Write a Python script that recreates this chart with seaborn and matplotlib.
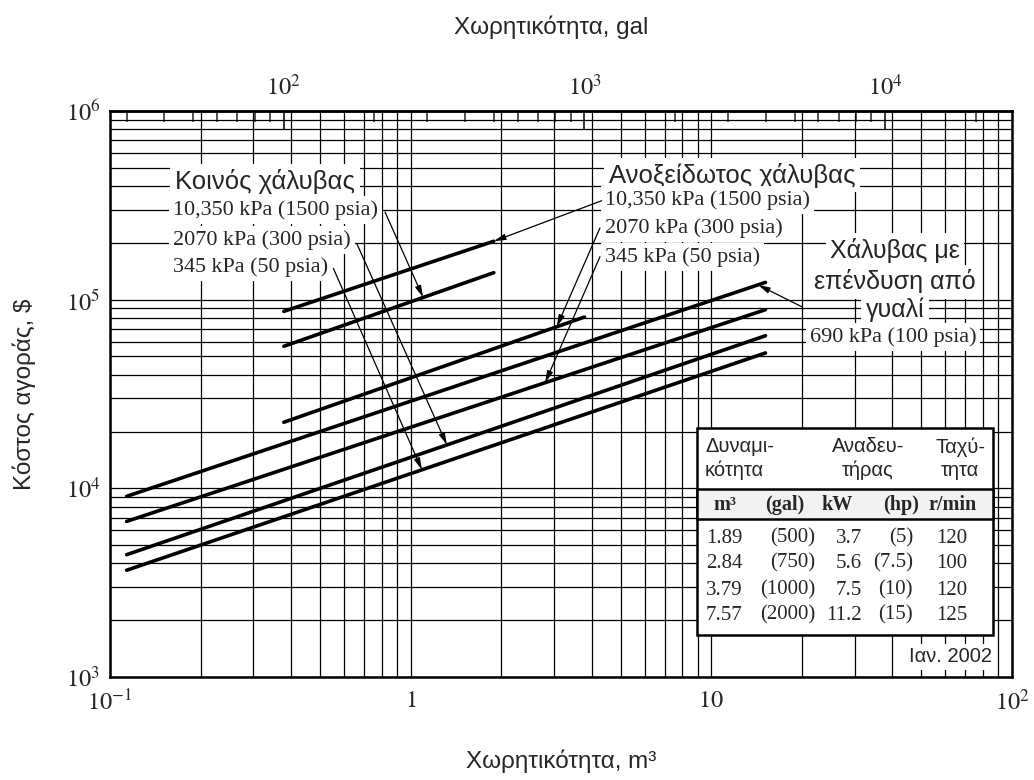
import numpy as np
import pandas as pd
import matplotlib
matplotlib.use("Agg")
import matplotlib.pyplot as plt
import seaborn as sns
from matplotlib.ticker import LogLocator, NullFormatter
from matplotlib.patches import Rectangle

# ---------------- data ----------------
series = ["Ανοξείδωτος 10,350 kPa", "Κοινός 10,350 kPa", "Ανοξείδωτος 2070 kPa",
          "Γυαλί 690 kPa", "Ανοξείδωτος 345 kPa", "Κοινός 2070 kPa", "Κοινός 345 kPa"]
cap_start_m3 = [0.3785, 0.3785, 0.3785, 0.1136, 0.1136, 0.1136, 0.1136]
cap_end_m3 = [1.89, 1.89, 3.785, 15.14, 15.14, 15.14, 15.14]
cost_start = [86700, 56600, 22400, 9070, 6680, 4450, 3680]
cost_end = [204000, 139000, 80900, 123500, 88500, 64400, 52200]
arrow_tip_m3 = [1.89, 1.10, 3.06, 14.3, 2.80, 1.32, 1.09]

x_ticks = [0.1, 1, 10, 100]
x_ticklabels = [r"$10^{-1}$", r"$1$", r"$10$", r"$10^{2}$"]
y_ticks = [1e3, 1e4, 1e5, 1e6]
y_ticklabels = [r"$10^{3}$", r"$10^{4}$", r"$10^{5}$", r"$10^{6}$"]
gal_ticks = [100, 1000, 10000]
gal_ticklabels = [r"$10^{2}$", r"$10^{3}$", r"$10^{4}$"]
GAL_PER_M3 = 264.172

tbl_m3 = ["1.89", "2.84", "3.79", "7.57"]
tbl_gal = ["(500)", "(750)", "(1000)", "(2000)"]
tbl_kw = ["3.7", "5.6", "7.5", "11.2"]
tbl_hp = ["(5)", "(7.5)", "(10)", "(15)"]
tbl_rpm = ["120", "100", "120", "125"]

# ---------------- style ----------------
sns.set_style("white")
plt.rcParams["font.family"] = ["Liberation Sans", "DejaVu Sans"]
plt.rcParams["mathtext.fontset"] = "stix"

SANS = ["Liberation Sans", "DejaVu Sans"]
SERIF = ["Liberation Serif", "DejaVu Serif"]

fig = plt.figure(figsize=(10.34, 7.8), dpi=100)
ax = fig.add_axes([0.10638, 0.13205, 0.87234, 0.72564])

rows = []
for name, xs, xe, ys, ye in zip(series, cap_start_m3, cap_end_m3, cost_start, cost_end):
    rows.append({"series": name, "capacity_m3": xs, "cost_usd": ys})
    rows.append({"series": name, "capacity_m3": xe, "cost_usd": ye})
df = pd.DataFrame(rows)

sns.lineplot(data=df, x="capacity_m3", y="cost_usd", units="series", estimator=None,
             sort=False, color="black", lw=2.6, ax=ax, zorder=5)

ax.set_xscale("log")
ax.set_yscale("log")
ax.set_xlim(0.1, 100)
ax.set_ylim(1e3, 1e6)
ax.set_xticks(x_ticks, x_ticklabels)
ax.set_yticks(y_ticks, y_ticklabels)
ax.xaxis.set_minor_locator(LogLocator(base=10, subs=np.arange(2, 10)))
ax.yaxis.set_minor_locator(LogLocator(base=10, subs=np.arange(2, 10)))
ax.xaxis.set_minor_formatter(NullFormatter())
ax.yaxis.set_minor_formatter(NullFormatter())
ax.grid(True, which="both", color="black", lw=0.9)
ax.set_axisbelow(True)
ax.tick_params(which="both", length=0, labelsize=17.5, top=False)
ax.tick_params(axis="x", pad=9)
ax.tick_params(axis="y", pad=7)
for sp in ax.spines.values():
    sp.set_visible(True)
    sp.set_color("black")
    sp.set_linewidth(1.8)

ax.set_xlabel("Χωρητικότητα, m³", fontsize=17.5, family=SANS)
ax.xaxis.set_label_coords(0.5, -0.128)
ax.set_ylabel("Κόστος αγοράς, \\$", fontsize=17.5, family=SANS)
ax.yaxis.set_label_coords(-0.082, 0.5)

ax2 = ax.secondary_xaxis("top", functions=(lambda m: m * GAL_PER_M3, lambda g: g / GAL_PER_M3))
ax2.set_xticks(gal_ticks, gal_ticklabels)
ax2.xaxis.set_minor_locator(LogLocator(base=10, subs=np.arange(2, 10)))
ax2.xaxis.set_minor_formatter(NullFormatter())
ax2.tick_params(which="major", direction="in", length=13, width=1.3, labelsize=17.5, pad=8)
ax2.tick_params(which="minor", direction="in", length=8, width=1.1)
ax2.spines["top"].set_linewidth(1.8)
ax2.set_xlabel("Χωρητικότητα, gal", fontsize=17.5, family=SANS)
ax2.xaxis.set_label_coords(0.489, 1.148, transform=ax.transAxes)
ax2.xaxis.label.set_va("center")

# ---------------- labels ----------------
wbox = dict(boxstyle="square,pad=0.18", fc="white", ec="none")

def label(x, y, s, family, size, ha="left", weight="normal"):
    ax.text(x, y, s, transform=ax.transAxes, family=family, fontsize=size, ha=ha,
            va="center", weight=weight, bbox=wbox, zorder=4)

label(0.0721, 0.8763, "Κοινός χάλυβας", SANS, 18.5)
for s, fy in zip(["10,350 kPa (1500 psia)", "2070 kPa (300 psia)", "345 kPa (50 psia)"],
                 [0.8251, 0.7721, 0.7244]):
    label(0.0698, fy, s, SERIF, 15.9)

label(0.5532, 0.8869, "Ανοξείδωτος χάλυβας", SANS, 18.5)
for s, fy in zip(["10,350 kPa (1500 psia)", "2070 kPa (300 psia)", "345 kPa (50 psia)"],
                 [0.8428, 0.7933, 0.7420]):
    label(0.5488, fy, s, SERIF, 15.9)

for s, fy in zip(["Χάλυβας με", "επένδυση από", "γυαλί"], [0.7544, 0.6979, 0.6484]):
    label(0.8703, fy, s, SANS, 18, ha="center")
label(0.8681, 0.6007, "690 kPa (100 psia)", SERIF, 15.9, ha="center")

# arrows from labels to lines
arrow_start = [(0.5451, 0.8415), (0.3049, 0.8216), (0.5432, 0.7933), (0.7669, 0.6542),
               (0.5432, 0.7426), (0.2735, 0.7661), (0.2476, 0.7221)]
for (fx, fy), xt, xs, xe, ys, ye in zip(arrow_start, arrow_tip_m3, cap_start_m3,
                                        cap_end_m3, cost_start, cost_end):
    yt = 10 ** np.interp(np.log10(xt), [np.log10(xs), np.log10(xe)],
                         [np.log10(ys), np.log10(ye)])
    ax.annotate("", xy=(xt, yt), xycoords="data", xytext=(fx, fy),
                textcoords="axes fraction",
                arrowprops=dict(arrowstyle="-|>,head_length=0.7,head_width=0.18",
                                color="black", lw=0.9, shrinkA=0, shrinkB=0),
                zorder=6)

# ---------------- table ----------------
T = ax.transAxes
ax.add_patch(Rectangle((0.6504, 0.0742), 0.9793 - 0.6504, 0.4394 - 0.0742,
                       transform=T, fc="white", ec="black", lw=1.8, zorder=6))
ax.add_patch(Rectangle((0.6504, 0.2799), 0.9793 - 0.6504, 0.3329 - 0.2799,
                       transform=T, fc="#f2f2f2", ec="black", lw=1.8, zorder=6))

def ttext(x, y, s, family, size, ha, weight="normal"):
    ax.text(x, y, s, transform=T, family=family, fontsize=size, ha=ha, va="center",
            weight=weight, zorder=7, linespacing=1.25)

ttext(0.6596, 0.3860, "Δυναμι-\nκότητα", SANS, 14.5, "left")
ttext(0.8404, 0.3860, "Αναδευ-\nτήρας", SANS, 14.5, "center")
ttext(0.9424, 0.3860, "Ταχύ-\nτητα", SANS, 14.5, "center")

for x, s in zip([0.6818, 0.7483, 0.8065, 0.8775, 0.9341],
                ["m³", "(gal)", "kW", "(hp)", "r/min"]):
    ttext(x, 0.3039, s, SERIF, 14.5, "center", weight="bold")

for fy, a, b, c, d, e in zip([0.2450, 0.2009, 0.1537, 0.1095],
                             tbl_m3, tbl_gal, tbl_kw, tbl_hp, tbl_rpm):
    ttext(0.6608, fy, a, SERIF, 15, "left")
    ttext(0.7816, fy, b, SERIF, 15, "right")
    ttext(0.8337, fy, c, SERIF, 15, "right")
    ttext(0.8902, fy, d, SERIF, 15, "right")
    ttext(0.9335, fy, e, SERIF, 15, "center")

ax.text(0.9778, 0.0359, "Ιαν. 2002", transform=T, family=SANS, fontsize=14.5,
        ha="right", va="center", bbox=wbox, zorder=4)

fig.savefig("out.png", dpi=100)
